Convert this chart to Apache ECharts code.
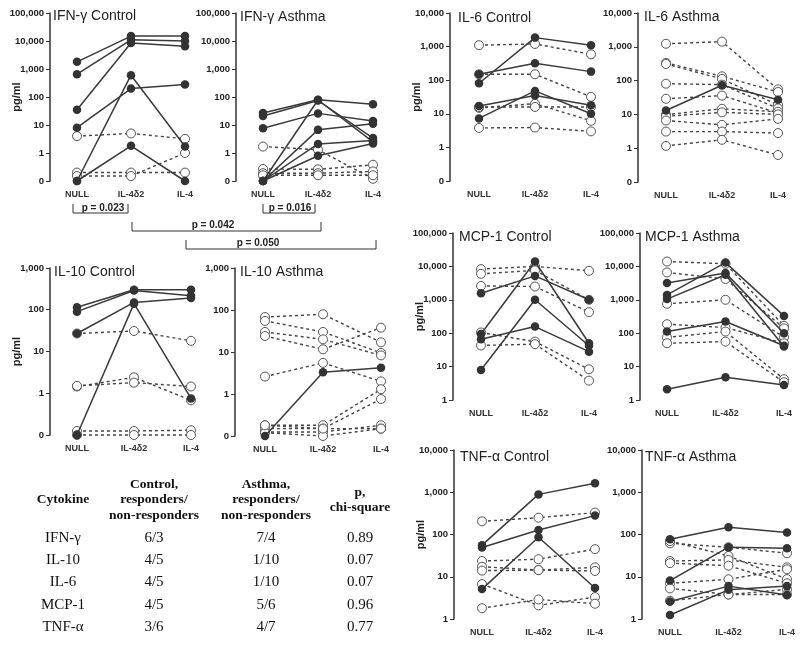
<!DOCTYPE html>
<html>
<head>
<meta charset="utf-8">
<script src="https://cdn.jsdelivr.net/npm/echarts@6/dist/echarts.min.js"></script>
<style>
html,body{margin:0;padding:0;background:#fff;}
#chart{width:800px;height:647px;}
</style>
</head>
<body>
<div id="chart"></div>
<script>
// ---------- DATA ----------
const categories = ['NULL', 'IL-4δ2', 'IL-4'];

// values in pg/ml at NULL, IL-4δ2, IL-4 (0 = below detection)
const ifngControlResponders = [[1800, 15000, 15000], [650, 11000, 10000], [35, 8500, 6500], [0, 600, 1.7], [8, 200, 280], [0, 1.8, 0]];
const ifngControlNonResponders = [[4, 5, 3.2], [0.2, 0.2, 0.2], [0.15, 0.15, 1.0]];

const ifngAsthmaResponders = [[27, 80, 55], [21, 75, 3.4], [7.7, 26, 14], [0, 78, 2.5], [0, 6.7, 11], [0, 2.1, 2.8], [0, 0.8, 2.2]];
const ifngAsthmaNonResponders = [[1.7, 1.3, 0.12], [0.27, 0.26, 0.38], [0.19, 0.19, 0.22], [0.16, 0.16, 0.16]];

const il10ControlResponders = [[115, 300, 300], [90, 290, 215], [27, 150, 190], [0, 140, 0.75]];
const il10ControlNonResponders = [[27, 31, 18], [1.45, 2.4, 0.68], [1.5, 1.8, 1.45], [0.125, 0.125, 0.13], [0, 0, 0]];

const il10AsthmaResponders = [[0, 3.3, 4.2]];
const il10AsthmaNonResponders = [[68, 79, 17], [55, 30, 9.5], [30, 20, 8.3], [24, 11.6, 38], [2.6, 5.5, 2], [0.18, 0.18, 1.3], [0.15, 0.15, 0.76], [0.125, 0.125, 0.18], [0.12, 0, 0.15], [0.18, 0.15, 0.15]];

const il6ControlResponders = [[81, 1850, 1100], [150, 320, 180], [17, 35, 18], [7.3, 48, 10]];
const il6ControlNonResponders = [[1100, 1200, 590], [150, 150, 32], [15, 20, 6.2], [16, 16, 16], [3.8, 3.9, 3]];

const il6AsthmaResponders = [[13, 73, 27]];
const il6AsthmaNonResponders = [[1230, 1420, 55], [335, 134, 46], [310, 112, 19], [81, 76, 15], [29, 36, 11], [9.8, 14.7, 12], [8.8, 11.5, 10], [6.6, 4.9, 7.4], [3.1, 3.1, 2.8], [1.17, 1.77, 0.63]];

const mcp1ControlResponders = [[1580, 5200, 1000], [95, 14000, 50], [7.9, 1000, 42], [66, 158, 28]];
const mcp1ControlNonResponders = [[8300, 10000, 7400], [6000, 7600, 1000], [2600, 2500, 425], [105, 56, 8.3], [43, 47, 3.8]];

const mcp1AsthmaResponders = [[3200, 6300, 100], [1400, 13000, 330], [1050, 5600, 40], [112, 224, 42], [2.1, 4.8, 2.8]];
const mcp1AsthmaNonResponders = [[14000, 12000, 166], [6600, 4200, 140], [760, 1000, 76], [186, 148, 50], [75, 112, 4.2], [50, 56, 3.4]];

const tnfControlResponders = [[56, 890, 1630], [49, 128, 280], [5.1, 86, 5.4]];
const tnfControlNonResponders = [[205, 250, 330], [23.6, 26, 45], [17.3, 14.4, 16.7], [14, 14.4, 13.7], [6.7, 2.1, 3.3], [1.8, 2.9, 2.3]];

const tnfAsthmaResponders = [[77, 148, 112], [8.1, 50, 47], [2.6, 6, 3.7], [1.24, 4.9, 6]];
const tnfAsthmaNonResponders = [[62, 50, 36], [70, 31, 8.8], [23.6, 25, 16.7], [21, 18.3, 7], [7, 8.7, 15], [5.3, 3.8, 5], [2.7, 3.8, 3.8]];

const panelTitles = ['IFN-γ Control', 'IFN-γ Asthma', 'IL-10 Control', 'IL-10 Asthma', 'IL-6 Control', 'IL-6 Asthma', 'MCP-1 Control', 'MCP-1 Asthma', 'TNF-α Control', 'TNF-α Asthma'];

const pValueLabels = ['p = 0.023', 'p = 0.016', 'p = 0.042', 'p = 0.050'];

const tableHeader = ['Cytokine', 'Control,\nresponders/\nnon-responders', 'Asthma,\nresponders/\nnon-responders', 'p,\nchi-square'];
const tableCytokines = ['IFN-γ', 'IL-10', 'IL-6', 'MCP-1', 'TNF-α'];
const tableControl = ['6/3', '4/5', '4/5', '4/5', '3/6'];
const tableAsthma = ['7/4', '1/10', '1/10', '5/6', '4/7'];
const tableP = ['0.89', '0.07', '0.07', '0.96', '0.77'];

// ---------- LAYOUT ----------
const panels = [
  {resp: ifngControlResponders, non: ifngControlNonResponders, axisX: 50, x0: 77, x1: 185, top: 13, bottom: 181, min: 0.1, max: 100000, tx: 53, ty: 16, ylab: true},
  {resp: ifngAsthmaResponders, non: ifngAsthmaNonResponders, axisX: 236, x0: 263, x1: 373, top: 13, bottom: 181, min: 0.1, max: 100000, tx: 240, ty: 17},
  {resp: il10ControlResponders, non: il10ControlNonResponders, axisX: 50, x0: 77, x1: 191, top: 268, bottom: 435, min: 0.1, max: 1000, tx: 54, ty: 272, ylab: true},
  {resp: il10AsthmaResponders, non: il10AsthmaNonResponders, axisX: 235, x0: 265, x1: 381, top: 268, bottom: 436, min: 0.1, max: 1000, tx: 240, ty: 272},
  {resp: il6ControlResponders, non: il6ControlNonResponders, axisX: 450, x0: 479, x1: 591, top: 13, bottom: 181, min: 0.1, max: 10000, tx: 458, ty: 18, ylab: true},
  {resp: il6AsthmaResponders, non: il6AsthmaNonResponders, axisX: 638, x0: 666, x1: 778, top: 13, bottom: 182, min: 0.1, max: 10000, tx: 644, ty: 17},
  {resp: mcp1ControlResponders, non: mcp1ControlNonResponders, axisX: 453, x0: 481, x1: 589, top: 233, bottom: 400, min: 1, max: 100000, tx: 459, ty: 237, ylab: true},
  {resp: mcp1AsthmaResponders, non: mcp1AsthmaNonResponders, axisX: 640, x0: 667, x1: 784, top: 233, bottom: 400, min: 1, max: 100000, tx: 645, ty: 237},
  {resp: tnfControlResponders, non: tnfControlNonResponders, axisX: 454, x0: 482, x1: 595, top: 450, bottom: 619, min: 1, max: 10000, tx: 460, ty: 457, ylab: true},
  {resp: tnfAsthmaResponders, non: tnfAsthmaNonResponders, axisX: 642, x0: 670, x1: 787, top: 450, bottom: 619, min: 1, max: 10000, tx: 645, ty: 457}
];

const SANS = '"Liberation Sans", Arial, sans-serif';
const SERIF = '"Liberation Serif", "Times New Roman", serif';
const INK = '#333333';

function fmt(v) {
  if (v < 0.5) return '0';
  return String(Math.round(v)).replace(/\B(?=(\d{3})+(?!\d))/g, ',');
}

const grids = [], xAxes = [], yAxes = [], series = [], graphics = [];

panels.forEach((p, i) => {
  grids.push({left: p.x0, top: p.top, width: p.x1 - p.x0, height: p.bottom - p.top, containLabel: false});
  xAxes.push({
    gridIndex: i, type: 'category', data: categories, boundaryGap: false,
    axisLine: {show: false}, axisTick: {show: false}, splitLine: {show: false},
    axisLabel: {fontFamily: SANS, fontWeight: 'bold', fontSize: 9, color: INK, margin: 9, interval: 0}
  });
  const decades = Math.round(Math.log10(p.max / p.min));
  yAxes.push({
    gridIndex: i, type: 'log', logBase: 10, min: p.min, max: p.max, splitNumber: decades,
    offset: p.x0 - p.axisX,
    axisLine: {show: true, lineStyle: {color: INK, width: 1.5}},
    axisTick: {show: true, length: 4, lineStyle: {color: INK, width: 1}},
    splitLine: {show: false},
    axisLabel: {fontFamily: SANS, fontWeight: 'bold', fontSize: 9.5, color: '#222', margin: 6, formatter: fmt}
  });
  const floor = v => Math.max(v, p.min);
  p.non.forEach(d => series.push({
    type: 'line', xAxisIndex: i, yAxisIndex: i, data: d.map(floor), clip: false,
    symbol: 'circle', symbolSize: 9, showAllSymbol: true,
    lineStyle: {color: '#444', width: 1.4, type: [3, 3]},
    itemStyle: {color: '#fff', borderColor: '#555', borderWidth: 1},
    z: 2
  }));
  p.resp.forEach(d => series.push({
    type: 'line', xAxisIndex: i, yAxisIndex: i, data: d.map(floor), clip: false,
    symbol: 'circle', symbolSize: 8.5, showAllSymbol: true,
    lineStyle: {color: '#3a3a3a', width: 1.5, type: 'solid'},
    itemStyle: {color: '#333', borderColor: '#333', borderWidth: 0},
    z: 3
  }));
  graphics.push({type: 'text', x: p.tx, y: p.ty, style: {text: panelTitles[i], font: '14px ' + SANS, fill: '#222', align: 'left', verticalAlign: 'middle', textAlign: 'left', textVerticalAlign: 'middle'}});
  if (p.ylab) {
    graphics.push({type: 'text', x: p.axisX - 33, y: (p.top + p.bottom) / 2, rotation: Math.PI / 2,
      style: {text: 'pg/ml', font: 'bold 11px ' + SANS, fill: '#222', align: 'center', verticalAlign: 'middle', textAlign: 'center', textVerticalAlign: 'middle'}});
  }
});

// p-value brackets
const brackets = [
  {x0: 73, x1: 128, y0: 204, y1: 213, tx: 103, ty: 208},
  {x0: 263, x1: 315, y0: 204, y1: 213, tx: 290, ty: 208},
  {x0: 132, x1: 321, y0: 222, y1: 231, tx: 213, ty: 225},
  {x0: 186, x1: 376, y0: 240, y1: 249, tx: 258, ty: 243}
];
brackets.forEach((b, i) => {
  graphics.push({type: 'polyline', shape: {points: [[b.x0, b.y0], [b.x0, b.y1], [b.x1, b.y1], [b.x1, b.y0]]}, style: {stroke: INK, lineWidth: 1, fill: null}});
  graphics.push({type: 'text', x: b.tx, y: b.ty, style: {text: pValueLabels[i], font: 'bold 10px ' + SANS, fill: '#222', align: 'center', verticalAlign: 'middle', textAlign: 'center', textVerticalAlign: 'middle'}});
});

// table
const colX = [63, 154, 266, 360];
tableHeader.forEach((h, c) => {
  graphics.push({type: 'text', x: colX[c], y: 500, style: {text: h, font: 'bold 13.5px ' + SERIF, lineHeight: 15.5, fill: '#111', align: 'center', verticalAlign: 'middle', textAlign: 'center', textVerticalAlign: 'middle'}});
});
const rowY = [538, 560, 582, 605, 627];
const cols = [tableCytokines, tableControl, tableAsthma, tableP];
cols.forEach((col, c) => col.forEach((t, r) => {
  graphics.push({type: 'text', x: colX[c], y: rowY[r], style: {text: t, font: '15px ' + SERIF, fill: '#111', align: 'center', verticalAlign: 'middle', textAlign: 'center', textVerticalAlign: 'middle'}});
}));

const chart = echarts.init(document.getElementById('chart'), null, {renderer: 'canvas'});
chart.setOption({
  animation: false,
  backgroundColor: '#fff',
  grid: grids, xAxis: xAxes, yAxis: yAxes, series: series,
  graphic: {elements: graphics}
});
</script>
</body>
</html>
